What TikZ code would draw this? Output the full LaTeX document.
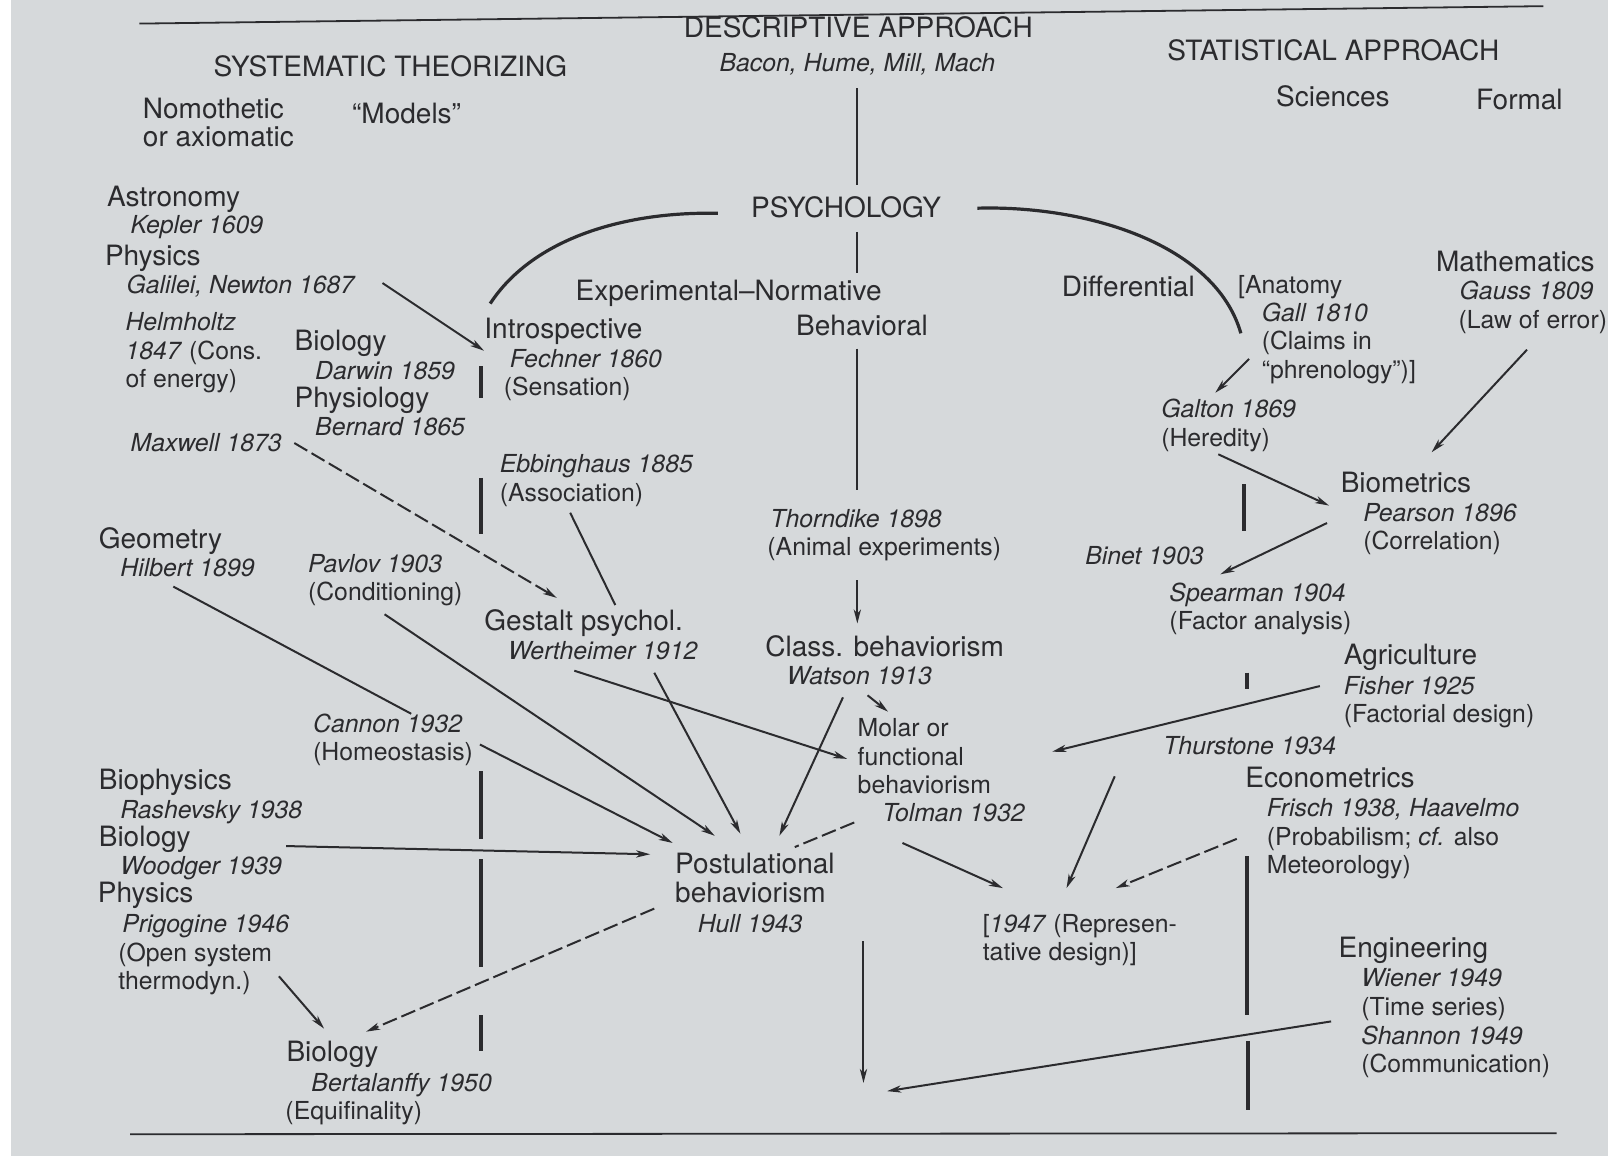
\documentclass[tikz,border=0pt]{standalone}
\usepackage{fontspec}
\setmainfont{TeX Gyre Heros}
\usetikzlibrary{arrows.meta}
\definecolor{pgPaper}{HTML}{D6D9DB}
\definecolor{pgInk}{HTML}{2B2B2E}
\newcommand\hdfont{\fontsize{14}{14.3}\selectfont}
\newcommand\nmfont{\fontsize{12.4}{14.3}\selectfont}
\tikzset{
  field/.style={anchor=base west, inner sep=0pt, font=\hdfont, text=pgInk, align=left},
  entry/.style={anchor=base west, inner sep=0pt, font=\nmfont, text=pgInk, align=left},
  who/.style={entry, font=\nmfont\itshape},
  link/.style={-{Stealth[length=7pt,width=3.6pt,inset=2pt]}, line width=1pt, draw=pgInk},
  tie/.style={line width=1pt, draw=pgInk},
  dlink/.style={link, dash pattern=on 7.5pt off 2.5pt},
  dtie/.style={tie, dash pattern=on 7.5pt off 2.5pt},
  spine/.style={line width=0.9pt, draw=pgInk},
  bar/.style={line width=1.6pt, draw=pgInk},
  branch/.style={line width=1.6pt, draw=pgInk},
  rule/.style={line width=0.9pt, draw=pgInk},
}

\begin{document}
\begin{tikzpicture}[x=0.51276pt, y=-0.51276pt]
  % page
  \useasboundingbox (0,0) rectangle (1568,1127);
  \fill[white] (0,0) rectangle (1568,1127);
  \fill[pgPaper] (11,0) rectangle (1568,1127);
  \draw[rule] (136,23) -- (1505,6);
  \draw[rule] (127,1106) -- (1518,1105);

  % column heads (multi-line nodes sit on their last line)
  \node[field, anchor=base] (desc) at (837,37) {DESCRIPTIVE APPROACH};
  \node[who, anchor=base] (bacon) at (836,70) {Bacon, Hume, Mill, Mach};
  \node[field] (syst) at (208,75) {SYSTEMATIC THEORIZING};
  \node[field] (stat) at (1138,59) {STATISTICAL APPROACH};
  \node[field] (nomo) at (139,143) {Nomothetic\\or axiomatic};
  \node[field] (models) at (343,120) {“Models”};
  \node[field] (sci) at (1244,104) {Sciences};
  \node[field] (formal) at (1439,107) {Formal};

  % psychology and its branches
  \node[field] (psych) at (732,212) {PSYCHOLOGY};
  \node[field] (expnorm) at (561,293) {Experimental–Normative};
  \node[field] (behav) at (776,327) {Behavioral};
  \node[field] (diff) at (1035,289) {Differential};

  % systematic theorizing
  \node[field] (astro) at (104,201) {Astronomy};
  \node[who] (kepler) at (127,228) {Kepler 1609};
  \node[field] (physA) at (102,259) {Physics};
  \node[who] (newton) at (123,286) {Galilei, Newton 1687};
  \node[entry] (helm) at (122,378) {\textit{Helmholtz}\\\textit{1847} (Cons.\\of energy)};
  \node[field] (biolA) at (287,342) {Biology};
  \node[who] (darwin) at (307,370) {Darwin 1859};
  \node[field] (physio) at (287,397) {Physiology};
  \node[who] (bernard) at (307,425) {Bernard 1865};
  \node[who] (maxwell) at (127,440) {Maxwell 1873};
  \node[field] (geom) at (96,535) {Geometry};
  \node[who] (hilbert) at (117,562) {Hilbert 1899};
  \node[entry] (pavlov) at (300,586) {\textit{Pavlov 1903}\\(Conditioning)};
  \node[entry] (cannon) at (305,742) {\textit{Cannon 1932}\\(Homeostasis)};
  \node[field] (biophys) at (96,770) {Biophysics};
  \node[who] (rashev) at (117,798) {Rashevsky 1938};
  \node[field] (biolB) at (96,825) {Biology};
  \node[who] (woodger) at (117,853) {Woodger 1939};
  \node[field] (physB) at (95,880) {Physics};
  \node[entry] (prigo) at (115,965) {\hspace*{2pt}\textit{Prigogine 1946}\\(Open system\\thermodyn.)};
  \node[field] (biolC) at (279,1035) {Biology};
  \node[entry] (bertal) at (278,1092) {\hspace*{13pt}\textit{Bertalanffy 1950}\\(Equifinality)};

  % experimental--normative
  \node[field] (introsp) at (472,330) {Introspective};
  \node[entry] (fechner) at (491,386) {\hspace*{3pt}\textit{Fechner 1860}\\(Sensation)};
  \node[entry] (ebbing) at (487,489) {\textit{Ebbinghaus 1885}\\(Association)};
  \node[field] (gestalt) at (472,615) {Gestalt psychol.};
  \node[who] (werth) at (495,643) {Wertheimer 1912};
  \node[entry] (thorn) at (748,542) {\hspace*{1.5pt}\textit{Thorndike 1898}\\(Animal experiments)};
  \node[field] (classb) at (746,640) {Class. behaviorism};
  \node[who] (watson) at (767,667) {Watson 1913};
  \node[entry] (molar) at (836,774) {Molar or\\functional\\behaviorism};
  \node[who] (tolman) at (860,801) {Tolman 1932};
  \node[field] (postul) at (658,880) {Postulational\\behaviorism};
  \node[who] (hull) at (680,909) {Hull 1943};
  \node[entry] (repr) at (958,937) {[\textit{1947} (Represen-\\tative design)]};

  % statistical approach
  \node[entry] (anat) at (1207,286) {[Anatomy};
  \node[entry] (gall) at (1230,369) {\textit{Gall 1810}\\(Claims in\\“phrenology”)]};
  \node[field] (math) at (1400,265) {Mathematics};
  \node[entry] (gauss) at (1422,320) {\hspace*{0.5pt}\textit{Gauss 1809}\\(Law of error)};
  \node[entry] (galton) at (1132,435) {\textit{Galton 1869}\\(Heredity)};
  \node[field] (biomet) at (1307,480) {Biometrics};
  \node[entry] (pearson) at (1329,536) {\textit{Pearson 1896}\\(Correlation)};
  \node[who] (binet) at (1058,550) {Binet 1903};
  \node[entry] (spear) at (1140,614) {\textit{Spearman 1904}\\(Factor analysis)};
  \node[field] (agri) at (1310,648) {Agriculture};
  \node[entry] (fisher) at (1310,705) {\textit{Fisher 1925}\\(Factorial design)};
  \node[who] (thurst) at (1134,736) {Thurstone 1934};
  \node[field] (econ) at (1214,768) {Econometrics};
  \node[entry] (frisch) at (1235,852) {\textit{Frisch 1938, Haavelmo}\\(Probabilism; \textit{cf.} also\\Meteorology)};
  \node[field] (engin) at (1305,934) {Engineering};
  \node[entry] (wiener) at (1327,1046) {\textit{Wiener 1949}\\(Time series)\\\textit{Shannon 1949}\\(Communication)};

  % central axis
  \draw[spine] ([shift={(0,16)}]bacon.base) -- ([shift={(104,-32)}]psych.base west);
  \draw[spine] ([shift={(104,14)}]psych.base west) -- ([shift={(275,-27)}]expnorm.base west);
  \draw[spine] ([shift={(60,13)}]behav.base west) -- ([shift={(88,-64)}]thorn.base west);
  \draw[link] ([shift={(88,24)}]thorn.base west) -- ([shift={(90,-32)}]classb.base west);
  \coordinate (sink) at (842,1056);
  \draw[link] ([shift={(162,9)}]hull.base west) -- (sink);

  % branches of psychology
  \draw[branch] ([shift={(-32,-4)}]psych.base west)
    .. controls (610,206) and (520,232) .. ([shift={(6,-34)}]introsp.base west);
  \draw[branch] ([shift={(221,-9)}]psych.base west)
    .. controls (1060,200) and (1185,238) .. ([shift={(-20,-44)}]gall.base west);

  % separators
  \foreach \ya/\yb in {357/388, 466/521, 752/818, 838/943, 990/1025}
    \draw[bar] (469,\ya) -- (469,\yb);
  \foreach \xa/\ya/\yb in {1213/472/518, 1216/656/672, 1216/835/990, 1217/1015/1082}
    \draw[bar] (\xa,\ya) -- (\xa,\yb);

  % systematic theorizing -> psychology
  \draw[link] ([shift={(250,-10)}]newton.base west) -- ([shift={(0,12)}]introsp.base west);
  \draw[dlink] ([shift={(160,-8)}]maxwell.base west) -- ([shift={(71,-32)}]gestalt.base west);
  \draw[tie] ([shift={(69,11)}]ebbing.base west) -- ([shift={(128,-25)}]gestalt.base west);
  \draw[tie] ([shift={(52,10)}]hilbert.base west) -- ([shift={(96,-46)}]cannon.base west);
  \draw[link] ([shift={(75,13)}]pavlov.base west) -- ([shift={(39,-65)}]postul.base west);
  \draw[link] ([shift={(65,11)}]werth.base west) -- ([shift={(-10,-34)}]molar.base west);
  \draw[link] ([shift={(143,13)}]werth.base west) -- ([shift={(64,-67)}]postul.base west);
  \draw[link] ([shift={(55,13)}]watson.base west) -- ([shift={(102,-65)}]postul.base west);
  \draw[link] ([shift={(79,11)}]watson.base west) -- ([shift={(30,-80)}]molar.base west);
  \draw[link] ([shift={(163,-16)}]cannon.base west) -- ([shift={(-2,-58)}]postul.base west);
  \draw[link] ([shift={(183,0)}]biolB.base west) -- ([shift={(-24,-47)}]postul.base west);
  \draw[link] ([shift={(157,-13)}]prigo.base west) -- ([shift={(37,-32)}]biolC.base west);
  \draw[dlink] ([shift={(-20,6)}]postul.base west) -- ([shift={(78,-29)}]biolC.base west);
  \draw[dtie] ([shift={(-27,1)}]tolman.base west) -- ([shift={(117,-54)}]postul.base west);
  \draw[link] ([shift={(20,21)}]tolman.base west) -- ([shift={(20,-71)}]repr.base west);

  % statistical approach -> psychology
  \draw[link] ([shift={(-47,21)}]thurst.base west) -- ([shift={(82,-71)}]repr.base west);
  \draw[dlink] ([shift={(-29,-34)}]frisch.base west) -- ([shift={(130,-71)}]repr.base west);
  \draw[link] ([shift={(-23,-36)}]fisher.base west) -- ([shift={(190,-41)}]molar.base west);
  \draw[link] ([shift={(-29,-50)}]wiener.base west) -- ([shift={(23,8)}]sink);
  \draw[link] ([shift={(-12,-19)}]gall.base west) -- ([shift={(53,-52)}]galton.base west);
  \draw[link] ([shift={(67,21)}]gauss.base west) -- ([shift={(89,-39)}]biomet.base west);
  \draw[link] ([shift={(56,8)}]galton.base west) -- ([shift={(-11,13)}]biomet.base west);
  \draw[link] ([shift={(-35,-26)}]pearson.base west) -- ([shift={(50,-54)}]spear.base west);
\end{tikzpicture}
\end{document}
